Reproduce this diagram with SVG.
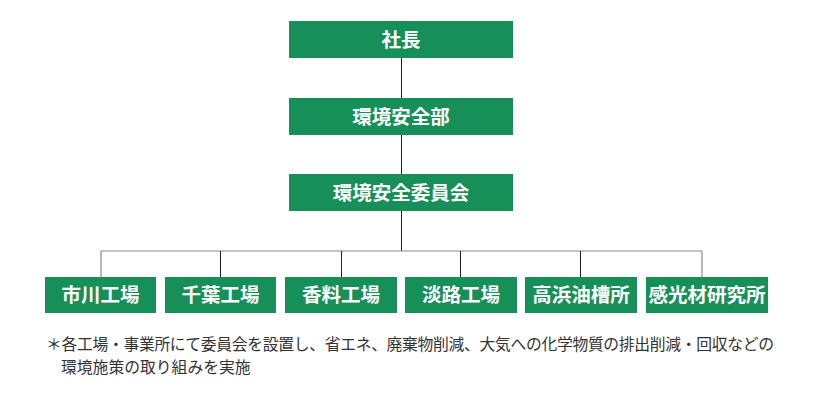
<svg xmlns="http://www.w3.org/2000/svg" width="821" height="403" viewBox="0 0 821 403">
<style>
.box{fill:#178f58;}
.lbl{font-family:"Noto Sans CJK JP","Noto Sans",sans-serif;font-weight:bold;font-size:19.5px;fill:#ffffff;text-anchor:middle;}
.note{font-family:"Noto Sans CJK JP","Noto Sans",sans-serif;font-size:15.8px;fill:#333333;}
.lnv{stroke:#222222;stroke-width:1;fill:none;}
.lnh{stroke:#888888;stroke-width:1.2;fill:none;}
</style>
<rect width="821" height="403" fill="#ffffff"/>
<g id="connectors">
<line class="lnv" x1="401.5" y1="58" x2="401.5" y2="98"/>
<line class="lnv" x1="401.5" y1="135" x2="401.5" y2="174"/>
<line class="lnv" x1="401.5" y1="211" x2="401.5" y2="251"/>
<line class="lnh" x1="101" y1="251" x2="702" y2="251"/>
<line class="lnh" x1="101" y1="251" x2="101" y2="277"/>
<line class="lnv" x1="220.5" y1="251" x2="220.5" y2="277"/>
<line class="lnv" x1="341.5" y1="251" x2="341.5" y2="277"/>
<line class="lnv" x1="460.5" y1="251" x2="460.5" y2="277"/>
<line class="lnv" x1="580.5" y1="251" x2="580.5" y2="277"/>
<line class="lnh" x1="702" y1="251" x2="702" y2="277"/>
</g>
<g id="n-president"><rect class="box" x="289" y="21" width="224" height="37"/><text class="lbl" x="401" y="46.8">社長</text></g>
<g id="n-env-dept"><rect class="box" x="289" y="98" width="224" height="37"/><text class="lbl" x="401" y="123.8">環境安全部</text></g>
<g id="n-committee"><rect class="box" x="289" y="174" width="224" height="37"/><text class="lbl" x="401" y="199.8">環境安全委員会</text></g>
<g id="n-ichikawa"><rect class="box" x="45" y="277" width="111" height="36"/><text class="lbl" x="100.5" y="302.3">市川工場</text></g>
<g id="n-chiba"><rect class="box" x="165" y="277" width="111" height="36"/><text class="lbl" x="220.5" y="302.3">千葉工場</text></g>
<g id="n-koryo"><rect class="box" x="285" y="277" width="112" height="36"/><text class="lbl" x="341" y="302.3">香料工場</text></g>
<g id="n-awaji"><rect class="box" x="405" y="277" width="112" height="36"/><text class="lbl" x="461" y="302.3">淡路工場</text></g>
<g id="n-takahama"><rect class="box" x="525" y="277" width="112" height="36"/><text class="lbl" x="581" y="302.3">高浜油槽所</text></g>
<g id="n-kankozai"><rect class="box" x="646" y="277" width="122" height="36"/><text class="lbl" x="707" y="302.3">感光材研究所</text></g>
<g id="footnote">
<text class="note" x="46" y="350" textLength="728" lengthAdjust="spacing">＊各工場・事業所にて委員会を設置し、省エネ、廃棄物削減、大気への化学物質の排出削減・回収などの</text>
<text class="note" x="61" y="373">環境施策の取り組みを実施</text>
</g>
</svg>
